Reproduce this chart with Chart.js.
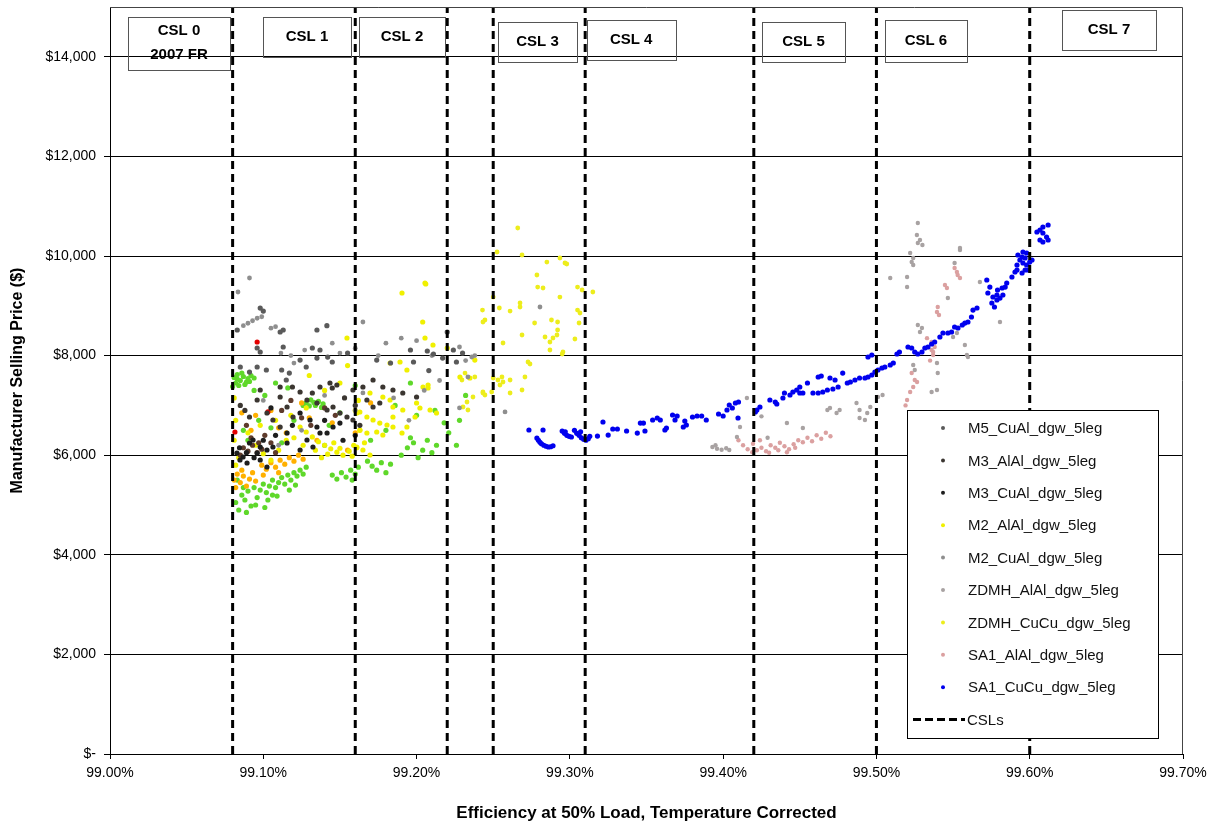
<!DOCTYPE html>
<html>
<head>
<meta charset="utf-8">
<script src="https://cdn.jsdelivr.net/npm/chart.js@4/dist/chart.umd.min.js"></script>
<style>
  html, body { margin: 0; padding: 0; background: #fff; }
</style>
</head>
<body>
<canvas id="myChart" width="1220" height="824"></canvas>
<script>
// efficiency (%) vs. manufacturer selling price ($)
const m5CuAl = [[99.098,8955],[99.100,8895],[99.083,8514],[99.111,8474],[99.113,8514],[99.135,8514],[99.096,8153],[99.098,8072],[99.113,8173],[99.132,8153],[99.137,8112],[99.196,8112],[99.207,8092],[99.211,8032],[99.217,7951],[99.220,8474],[99.226,7871],[99.224,8112],[99.124,7911],[99.128,7771],[99.135,7951],[99.142,7971],[99.145,7871],[99.155,8052],[99.174,7911],[99.183,7851],[99.198,7871],[99.085,7771],[99.091,7670],[99.096,7771],[99.102,7711],[99.112,7711],[99.117,7650],[99.115,7510],[99.1415,8600],[99.230,8050],[99.208,7700]]
const m3AlAl = [[99.098,7309],[99.111,7369],[99.119,7369],[99.124,7269],[99.132,7249],[99.137,7369],[99.1435,7450],[99.145,7349],[99.148,7410],[99.1585,7309],[99.165,7369],[99.1716,7510],[99.178,7369],[99.1846,7309],[99.191,7249],[99.200,7169],[99.1676,7108],[99.1716,6968],[99.176,7048],[99.1285,7108],[99.135,7048],[99.1416,6908],[99.1455,6968],[99.150,6847],[99.1546,6767],[99.1585,6707],[99.111,7169],[99.1155,6968],[99.1194,6767],[99.096,7108],[99.091,6767],[99.1024,6847],[99.1063,6707],[99.111,6566],[99.085,7000],[99.088,6900],[99.160,7000],[99.153,7150],[99.163,6600]]
const m3CuAl = [[99.124,6847],[99.1305,6707],[99.135,6566],[99.1416,6446],[99.1455,6566],[99.150,6646],[99.0933,6305],[99.098,6165],[99.1024,6104],[99.096,6044],[99.091,6245],[99.0868,5964],[99.1063,6165],[99.1155,6245],[99.124,6104],[99.1285,6305],[99.1324,6165],[99.137,6446],[99.1155,6446],[99.0848,5904],[99.0894,5843],[99.0828,6044],[99.098,5904],[99.1024,5763],[99.0845,6150],[99.089,6050],[99.094,5950],[99.100,6300],[99.108,6400],[99.119,6600],[99.105,6950],[99.140,6700],[99.160,6400],[99.152,6300]]
const m2AlAl = [[99.081,7150],[99.082,6700],[99.081,6300],[99.082,5800],[99.084,5950],[99.124,6566],[99.128,6466],[99.132,6366],[99.136,6270],[99.140,6200],[99.144,6130],[99.148,6060],[99.152,6000],[99.156,6080],[99.159,6200],[99.161,6150],[99.158,5980],[99.150,6140],[99.146,6250],[99.134,6100],[99.138,5950],[99.142,6020],[99.126,6200],[99.120,6350],[99.115,6300],[99.110,6100],[99.105,5900],[99.100,6030],[99.095,6200],[99.090,6450],[99.098,6600],[99.108,6700],[99.118,6800],[99.128,6950],[99.140,7300],[99.150,7450],[99.130,7600],[99.155,7800],[99.160,6900],[99.162,7100],[99.163,6500],[99.166,6250],[99.163,6867],[99.1676,6767],[99.1716,6707],[99.176,6646],[99.1807,6606],[99.1846,6566],[99.163,6506],[99.1676,6446],[99.174,6466],[99.178,6406],[99.161,6165],[99.165,6104],[99.1696,6004],[99.1827,7851],[99.1892,7871],[99.1937,7711],[99.1827,7108],[99.1846,6767],[99.1905,6446],[99.1937,6566],[99.199,6767],[99.2022,6948],[99.2042,7369],[99.2075,7349],[99.2055,9458],[99.1905,9257],[99.204,8675],[99.2055,8353],[99.2107,8213],[99.220,8153],[99.1546,8353],[99.2283,7570],[99.2348,7550],[99.238,7911],[99.206,9438],[99.1696,7249],[99.178,7169],[99.1846,6968],[99.191,6908],[99.200,7048],[99.2088,6908],[99.213,6847],[99.161,6847],[99.2075,7410]]
const m2CuAl = [[99.0835,9277],[99.091,9558],[99.087,8600],[99.090,8650],[99.093,8700],[99.096,8750],[99.099,8780],[99.105,8550],[99.108,8580],[99.1115,8050],[99.118,8000],[99.127,8110],[99.150,8050],[99.160,8150],[99.165,8675],[99.175,8000],[99.190,8350],[99.210,8000],[99.232,7900],[99.238,8000],[99.100,7100],[99.110,6200],[99.125,6500],[99.140,7200],[99.160,6900],[99.165,7250],[99.185,7150],[99.195,6700],[99.205,7300],[99.215,7500],[99.228,6950],[99.2805,8976],[99.2577,6868],[99.236,7972],[99.228,8173],[99.2335,7570],[99.120,7850],[99.145,8250],[99.180,8250],[99.200,8300]]
const zdmhAlAl = [[99.393,6165],[99.396,6130],[99.399,6110],[99.402,6140],[99.404,6105],[99.395,6200],[99.409,6365],[99.411,6566],[99.4155,7149],[99.4416,6646],[99.452,6546],[99.468,6908],[99.4697,6948],[99.474,6847],[99.476,6908],[99.487,7048],[99.489,6908],[99.494,6847],[99.496,6968],[99.489,6747],[99.4925,6707],[99.501,7169],[99.504,7209],[99.524,7811],[99.525,7711],[99.5395,7851],[99.540,7650],[99.536,7269],[99.5395,7309],[99.527,8614],[99.5297,8554],[99.5284,8474],[99.5466,9156],[99.551,9859],[99.5545,10120],[99.550,8373],[99.5525,8454],[99.5577,8213],[99.559,8012],[99.5597,7972],[99.5675,9478],[99.5806,8675],[99.509,9558],[99.520,9578],[99.520,9377],[99.522,10060],[99.524,9960],[99.524,9819],[99.523,9879],[99.527,10662],[99.5264,10422],[99.5284,10321],[99.530,10221],[99.527,10261],[99.5545,10160],[99.429,6350],[99.425,6780]]
const zdmhCuCu = [[99.266,10562],[99.2525,10080],[99.2688,10020],[99.285,9879],[99.2935,9960],[99.2968,9859],[99.298,9839],[99.2785,9618],[99.279,9377],[99.2825,9357],[99.305,9377],[99.308,9317],[99.315,9277],[99.250,9176],[99.2935,9176],[99.243,8915],[99.254,8956],[99.261,8895],[99.2675,9056],[99.2675,8976],[99.305,8915],[99.3066,8855],[99.2446,8715],[99.2433,8675],[99.288,8715],[99.292,8675],[99.277,8655],[99.292,8514],[99.2916,8414],[99.289,8353],[99.287,8273],[99.2838,8373],[99.2688,8414],[99.306,8655],[99.3033,8333],[99.2564,8253],[99.287,8112],[99.2955,8072],[99.295,8032],[99.2727,7871],[99.274,7831],[99.250,7550],[99.2531,7510],[99.2557,7570],[99.2564,7470],[99.2544,7410],[99.261,7510],[99.2707,7570],[99.2688,7309],[99.261,7249],[99.2433,7269],[99.2446,7209],[99.249,7269],[99.2368,7169],[99.2329,7068],[99.2303,6968],[99.2335,6908],[99.2316,7650],[99.2296,7510],[99.238,7570],[99.2433,7249]]
const sa1AlAl = [[99.410,6300],[99.413,6200],[99.416,6120],[99.419,6060],[99.422,6100],[99.425,6150],[99.428,6080],[99.431,6200],[99.434,6150],[99.437,6250],[99.440,6180],[99.443,6120],[99.446,6220],[99.449,6300],[99.452,6260],[99.455,6350],[99.458,6280],[99.461,6400],[99.464,6330],[99.467,6450],[99.470,6380],[99.424,6300],[99.430,6050],[99.436,6100],[99.4416,6060],[99.447,6150],[99.4195,6230],[99.520,7108],[99.522,7269],[99.524,7369],[99.5265,7470],[99.525,7510],[99.536,8112],[99.537,8012],[99.538,8173],[99.536,8273],[99.537,8072],[99.540,8976],[99.5395,8875],[99.5408,8815],[99.5447,9418],[99.546,9357],[99.551,9759],[99.5525,9679],[99.553,9619],[99.5545,9558],[99.519,7000],[99.523,7650],[99.535,7900],[99.533,8350]]
const sa1CuCu = [[99.2733,6506],[99.2825,6506],[99.2785,6345],[99.2795,6300],[99.2805,6260],[99.2815,6230],[99.2830,6200],[99.2845,6180],[99.2860,6165],[99.2875,6170],[99.2890,6190],[99.2950,6485],[99.2965,6440],[99.2980,6400],[99.2995,6380],[99.3010,6365],[99.2970,6470],[99.3030,6500],[99.3045,6440],[99.3060,6400],[99.3075,6350],[99.3090,6320],[99.3105,6300],[99.3120,6330],[99.3130,6380],[99.3070,6470],[99.3180,6385],[99.3216,6667],[99.3250,6405],[99.3280,6526],[99.3310,6526],[99.3370,6486],[99.3440,6445],[99.3460,6646],[99.3480,6646],[99.3490,6486],[99.3540,6707],[99.3570,6747],[99.3590,6707],[99.3620,6506],[99.3630,6546],[99.3670,6807],[99.3700,6787],[99.3686,6707],[99.3740,6566],[99.3760,6606],[99.3750,6687],[99.3800,6767],[99.3830,6787],[99.3860,6787],[99.3890,6707],[99.3970,6827],[99.4000,6787],[99.4025,6908],[99.4040,7008],[99.4060,6948],[99.4100,7068],[99.4080,7048],[99.4097,6747],[99.4210,6867],[99.4220,6908],[99.4240,6968],[99.4305,7108],[99.4340,7068],[99.4350,7028],[99.4390,7149],[99.4400,7249],[99.4436,7209],[99.4455,7269],[99.4480,7309],[99.4500,7249],[99.4520,7249],[99.4500,7369],[99.4550,7450],[99.4586,7249],[99.4620,7249],[99.4650,7269],[99.4680,7309],[99.4716,7329],[99.4750,7369],[99.4620,7570],[99.4640,7590],[99.4697,7550],[99.4730,7510],[99.4780,7650],[99.4810,7450],[99.4830,7470],[99.4860,7510],[99.4890,7550],[99.4925,7550],[99.4945,7570],[99.4970,7610],[99.4990,7670],[99.5010,7711],[99.5036,7751],[99.5055,7771],[99.4945,7972],[99.4970,8012],[99.5090,7811],[99.5110,7851],[99.5134,8032],[99.5150,8072],[99.5206,8173],[99.5230,8153],[99.5250,8072],[99.5270,8032],[99.5297,8072],[99.5316,8153],[99.5336,8173],[99.5360,8233],[99.5380,8273],[99.5414,8373],[99.5434,8454],[99.5466,8454],[99.5490,8474],[99.5510,8574],[99.5532,8554],[99.5560,8614],[99.5577,8654],[99.5597,8675],[99.5620,8775],[99.5630,8915],[99.5656,8956],[99.5720,9518],[99.5740,9377],[99.5727,9257],[99.5760,9177],[99.5786,9116],[99.5770,8976],[99.5790,9317],[99.5820,9357],[99.5840,9377],[99.5850,9458],[99.5825,9217],[99.5753,9056],[99.5786,9217],[99.5806,9156],[99.5884,9578],[99.5904,9679],[99.5917,9819],[99.5936,9920],[99.5923,10020],[99.5950,9980],[99.5956,9859],[99.5970,9960],[99.5980,9819],[99.5989,9719],[99.6000,9879],[99.6015,9920],[99.5950,9659],[99.5970,9719],[99.5917,9719],[99.5980,10060],[99.5956,10080],[99.6047,10482],[99.6067,10522],[99.6086,10462],[99.6110,10381],[99.6120,10622],[99.6086,10582],[99.6067,10321],[99.6086,10281],[99.6120,10321]]

// points in the plot that have no legend entry
const extraGreen = [[99.081,7560],[99.083,7620],[99.085,7500],[99.082,7450],[99.087,7580],[99.089,7470],[99.084,7400],[99.086,7650],[99.090,7540],[99.088,7420],[99.092,7600],[99.083,7530],[99.091,7480],[99.080,7380],[99.094,7550],[99.128,7050],[99.131,7110],[99.134,7000],[99.136,7080],[99.138,6960],[99.130,6990],[99.133,7060],[99.139,7030],[99.126,7000],[99.082,5050],[99.084,4900],[99.086,5200],[99.088,5100],[99.090,5280],[99.092,4980],[99.094,5350],[99.096,5150],[99.098,5300],[99.100,5420],[99.102,5250],[99.104,5380],[99.106,5500],[99.108,5350],[99.110,5450],[99.112,5550],[99.114,5420],[99.116,5600],[99.118,5500],[99.120,5650],[99.122,5580],[99.124,5700],[99.126,5620],[99.128,5760],[99.083,5500],[99.087,5350],[99.089,4850],[99.095,5000],[99.101,4950],[99.103,5100],[99.106,5200],[99.109,5180],[99.117,5300],[99.121,5400],[99.145,5600],[99.148,5520],[99.151,5650],[99.154,5560],[99.157,5700],[99.160,5620],[99.162,5760],[99.158,5500],[99.168,5880],[99.171,5780],[99.174,5700],[99.177,5850],[99.180,5650],[99.183,5820],[99.190,6000],[99.194,6150],[99.198,6250],[99.201,5950],[99.204,6100],[99.207,6300],[99.210,6050],[99.196,6350],[99.213,6200],[99.094,7300],[99.101,7200],[99.108,7450],[99.097,6700],[99.105,6550],[99.090,6300],[99.112,6250],[99.120,6700],[99.116,7350],[99.143,6600],[99.150,6850],[99.160,7400],[99.170,6300],[99.180,6500],[99.186,7000],[99.200,6800],[99.212,6900],[99.221,6450],[99.226,6200],[99.218,6650],[99.232,7200],[99.228,6700],[99.196,7450],[99.140,6200],[99.087,6500]]
const extraOrange = [[99.081,5500],[99.083,5620],[99.085,5450],[99.087,5580],[99.089,5380],[99.091,5520],[99.093,5650],[99.086,5700],[99.095,5480],[99.082,5350],[99.099,5800],[99.102,5720],[99.105,5850],[99.108,5760],[99.111,5900],[99.114,5820],[99.117,5950],[99.120,5880],[99.123,6000],[99.126,5920],[99.110,5650],[99.100,5600],[99.086,6850],[99.095,6800],[99.105,6900],[99.115,6450],[99.125,7050],[99.135,6300],[99.110,6550],[99.145,6650],[99.092,6500],[99.155,6100],[99.160,6450],[99.170,7050],[99.130,6750]]
const extraRed = [[99.096,8273],[99.103,6868],[99.0815,6466]]
const extraBrown = [[99.087,6150],[99.090,6080],[99.093,6200],[99.096,6050],[99.099,6120],[99.085,6000],[99.105,6250],[99.112,6900],[99.118,7100],[99.125,6750],[99.131,6600],[99.101,6400],[99.092,6350],[99.140,6950],[99.147,6800],[99.089,6600],[99.108,6050],[99.097,6250]]

const cslX = [99.08, 99.16, 99.22, 99.25, 99.31, 99.42, 99.50, 99.60]
const cslLabels = [["CSL 0", "2007 FR"], ["CSL 1"], ["CSL 2"], ["CSL 3"], ["CSL 4"], ["CSL 5"], ["CSL 6"], ["CSL 7"]]
const xTicks = [99.0, 99.1, 99.2, 99.3, 99.4, 99.5, 99.6, 99.7]
const yTicks = [0, 2000, 4000, 6000, 8000, 10000, 12000, 14000]

// label box placement (center in data units, box edges in px)
const cslBoxes = [
  { x: 99.045, top: 17, bottom: 70, w: 102 },
  { x: 99.1285, top: 17, bottom: 57, w: 88 },
  { x: 99.1905, top: 17, bottom: 57, w: 86 },
  { x: 99.2789, top: 22, bottom: 62, w: 79 },
  { x: 99.340, top: 20, bottom: 60, w: 89 },
  { x: 99.4524, top: 22, bottom: 62, w: 83 },
  { x: 99.5323, top: 20, bottom: 62, w: 82 },
  { x: 99.6517, top: 10, bottom: 50, w: 94 },
]

const FONT = "'Liberation Sans', Arial, sans-serif"
const pts = arr => arr.map(([x, y]) => ({ x, y }))

const series = [
  { label: "M5_CuAl_dgw_5leg", data: m5CuAl, color: "#5a5a5a", r: 2.6 },
  { label: "M3_AlAl_dgw_5leg", data: m3AlAl, color: "#3b3631", r: 2.6 },
  { label: "M3_CuAl_dgw_5leg", data: m3CuAl, color: "#1e1e1e", r: 2.6 },
  { label: "M2_AlAl_dgw_5leg", data: m2AlAl, color: "#f0f000", r: 2.6 },
  { label: "M2_CuAl_dgw_5leg", data: m2CuAl, color: "#8e8e8e", r: 2.4 },
  { label: "ZDMH_AlAl_dgw_5leg", data: zdmhAlAl, color: "#a8a2a2", r: 2.2 },
  { label: "ZDMH_CuCu_dgw_5leg", data: zdmhCuCu, color: "#eded1c", r: 2.4 },
  { label: "SA1_AlAl_dgw_5leg", data: sa1AlAl, color: "#dba0a0", r: 2.2 },
  { label: "SA1_CuCu_dgw_5leg", data: sa1CuCu, color: "#0000ee", r: 2.6 },
]
const extras = [
  { label: "", data: extraRed, color: "#e40000", r: 2.6 },
  { label: "", data: extraBrown, color: "#5e3b2c", r: 2.6 },
  { label: "", data: extraOrange, color: "#ffb000", r: 2.6 },
  { label: "", data: extraGreen, color: "#5fd82a", r: 2.6 },
]

const scatterSet = s => ({
  label: s.label,
  data: pts(s.data),
  backgroundColor: s.color,
  borderWidth: 0,
  pointRadius: s.r,
  pointHoverRadius: s.r,
})

const cslSets = cslX.map(x => ({
  label: "CSLs",
  data: [{ x, y: 0 }, { x, y: 15000 }],
  showLine: true,
  borderColor: "#000",
  borderWidth: 3,
  borderDash: [8, 5],
  pointRadius: 0,
}))

// draw order: first dataset ends up on top
const bySeries = Object.fromEntries(series.map(s => [s.label, s]))
const datasets = [
  ...cslSets,
  scatterSet(bySeries["SA1_CuCu_dgw_5leg"]),
  scatterSet(bySeries["M5_CuAl_dgw_5leg"]),
  scatterSet(bySeries["M3_AlAl_dgw_5leg"]),
  scatterSet(bySeries["M3_CuAl_dgw_5leg"]),
  scatterSet(extras[0]),
  scatterSet(extras[1]),
  scatterSet(bySeries["M2_CuAl_dgw_5leg"]),
  scatterSet(bySeries["M2_AlAl_dgw_5leg"]),
  scatterSet(extras[2]),
  scatterSet(extras[3]),
  scatterSet(bySeries["ZDMH_CuCu_dgw_5leg"]),
  scatterSet(bySeries["ZDMH_AlAl_dgw_5leg"]),
  scatterSet(bySeries["SA1_AlAl_dgw_5leg"]),
]

const decorations = {
  id: "decorations",
  afterDraw(chart) {
    const { ctx, chartArea: a, scales } = chart
    ctx.save()
    // plot frame (top and right)
    ctx.strokeStyle = "#444"
    ctx.lineWidth = 1
    ctx.beginPath()
    ctx.moveTo(a.left, a.top + 0.5)
    ctx.lineTo(a.right - 0.5, a.top + 0.5)
    ctx.lineTo(a.right - 0.5, a.bottom)
    ctx.stroke()

    // CSL label boxes
    ctx.strokeStyle = "#555"
    ctx.fillStyle = "#000"
    ctx.font = "bold 15px " + FONT
    ctx.textAlign = "center"
    ctx.textBaseline = "middle"
    cslBoxes.forEach((b, i) => {
      const cx = scales.x.getPixelForValue(b.x)
      const left = Math.round(cx - b.w / 2) + 0.5
      ctx.strokeRect(left, b.top + 0.5, b.w, b.bottom - b.top)
      const lines = cslLabels[i]
      if (lines.length === 1) {
        ctx.fillText(lines[0], cx, (b.top + b.bottom) / 2)
      } else {
        ctx.fillText(lines[0], cx, b.top + 14)
        ctx.fillText(lines[1], cx, b.top + 38)
      }
    })

    // legend box
    const lx = 907, ly = 410, lw = 251, lh = 328
    ctx.fillStyle = "#fff"
    ctx.fillRect(lx, ly, lw, lh)
    ctx.strokeStyle = "#000"
    ctx.strokeRect(lx + 0.5, ly + 0.5, lw, lh)
    ctx.font = "15px " + FONT
    ctx.textAlign = "left"
    series.forEach((s, i) => {
      const y = 428 + i * 32.4
      ctx.fillStyle = s.color
      ctx.beginPath()
      ctx.arc(943, y, 2, 0, Math.PI * 2)
      ctx.fill()
      ctx.fillStyle = "#111"
      ctx.fillText(s.label, 968, y + 1)
    })
    const yc = 428 + 9 * 32.4
    ctx.strokeStyle = "#000"
    ctx.lineWidth = 3
    ctx.setLineDash([8, 4])
    ctx.beginPath()
    ctx.moveTo(913, yc)
    ctx.lineTo(965, yc)
    ctx.stroke()
    ctx.setLineDash([])
    ctx.fillStyle = "#111"
    ctx.fillText("CSLs", 967, yc + 1)
    ctx.restore()
  },
}

const ctx = document.getElementById("myChart").getContext("2d")
const myChart = new Chart(ctx, {
  type: "scatter",
  data: { datasets },
  options: {
    responsive: false,
    animation: false,
    devicePixelRatio: 1,
    layout: { padding: { left: 0, right: 37, top: 7, bottom: 0 } },
    scales: {
      x: {
        type: "linear",
        min: 99.0,
        max: 99.7,
        afterFit: s => { s.height = 70; s.paddingLeft = 0; s.paddingRight = 0 },
        afterBuildTicks: s => { s.ticks = xTicks.map(value => ({ value })) },
        ticks: {
          color: "#000",
          font: { family: FONT, size: 14 },
          padding: 6,
          maxRotation: 0,
          callback: v => v.toFixed(2) + "%",
        },
        grid: { drawOnChartArea: false, color: "#000", tickLength: 5 },
        border: { color: "#000", width: 1 },
        title: {
          display: true,
          text: "Efficiency at 50% Load, Temperature Corrected",
          color: "#000",
          font: { family: FONT, size: 17, weight: "bold" },
          padding: { top: 0, bottom: 0 },
        },
      },
      y: {
        type: "linear",
        min: 0,
        max: 15000,
        afterFit: s => { s.width = 110; s.paddingTop = 0; s.paddingBottom = 0 },
        afterBuildTicks: s => { s.ticks = yTicks.map(value => ({ value })) },
        ticks: {
          color: "#000",
          font: { family: FONT, size: 14 },
          padding: 8,
          callback: v => (v === 0 ? "$-" : "$" + v.toLocaleString("en-US")),
        },
        grid: { color: "#000", lineWidth: 1, tickLength: 6 },
        border: { color: "#000", width: 1 },
        title: {
          display: true,
          text: "Manufacturer Selling Price ($)",
          color: "#000",
          font: { family: FONT, size: 16, weight: "bold" },
          padding: { top: 8, bottom: 0 },
        },
      },
    },
    plugins: {
      legend: { display: false },
      tooltip: { enabled: false },
    },
  },
  plugins: [decorations],
})
</script>
</body>
</html>
